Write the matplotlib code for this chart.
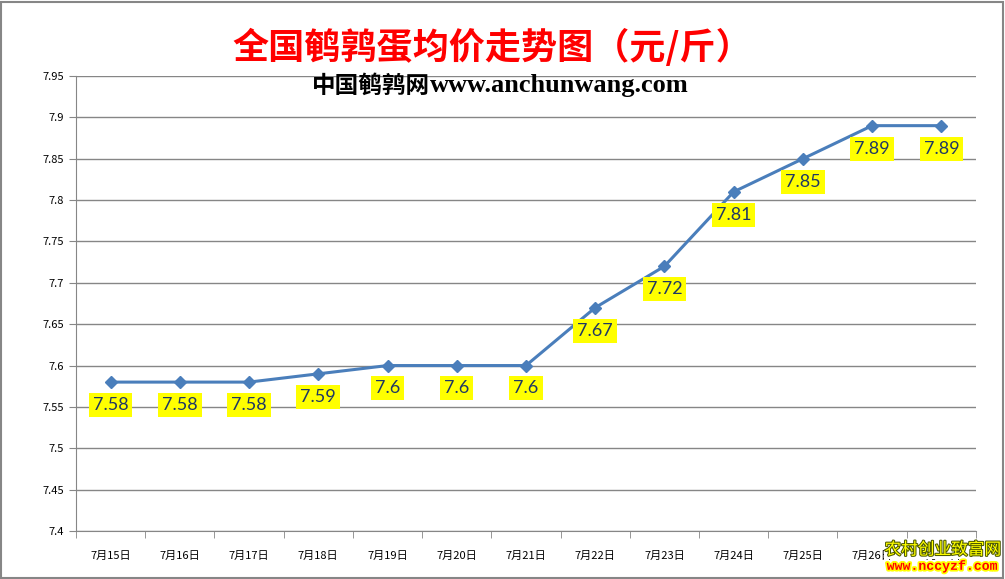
import matplotlib.pyplot as plt
import matplotlib.patheffects as pe
import numpy as np

plt.rcParams['font.family'] = ['Noto Sans CJK SC', 'DejaVu Sans']

dates = ['7月15日', '7月16日', '7月17日', '7月18日', '7月19日', '7月20日', '7月21日',
         '7月22日', '7月23日', '7月24日', '7月25日', '7月26日', '7月27日']
prices = [7.58, 7.58, 7.58, 7.59, 7.6, 7.6, 7.6, 7.67, 7.72, 7.81, 7.85, 7.89, 7.89]
yticks = [7.4, 7.45, 7.5, 7.55, 7.6, 7.65, 7.7, 7.75, 7.8, 7.85, 7.9, 7.95]

fig = plt.figure(figsize=(10.05, 5.79), dpi=100)
ax = fig.add_axes([0.0756, 0.0829, 0.8955, 0.7858])

x = np.arange(len(dates))
ax.plot(x, prices, color='#4A7EBB', lw=2.2, marker='D', ms=6, zorder=3)

for xi, v in zip(x, prices):
    ax.annotate('%g' % v, (xi, v), xytext=(0, -16.5), textcoords='offset points',
                ha='center', va='center', fontsize=13, color='#1F3864',
                family=['Lato', 'DejaVu Sans'],
                bbox=dict(boxstyle='square,pad=0.22', fc='#FFFF00', ec='none'), zorder=4)

ax.set_xlim(-0.5, len(dates) - 0.5)
ax.set_ylim(7.4, 7.95)
ax.set_yticks(yticks)
ax.set_yticklabels(['%g' % t for t in yticks])
ax.set_xticks(x)
ax.set_xticklabels(dates)
ax.set_xticks(np.arange(len(dates) + 1) - 0.5, minor=True)
ax.tick_params(axis='x', which='major', length=0, pad=14, labelsize=8)
ax.tick_params(axis='x', which='minor', length=5, color='#868686')
ax.tick_params(axis='y', length=5, color='#868686', labelsize=8)
ax.grid(axis='y', color='#868686', lw=1)
ax.set_axisbelow(True)
for s in ['top', 'right']:
    ax.spines[s].set_visible(False)
ax.spines['left'].set_color('#868686')
ax.spines['bottom'].set_color('#868686')

fig.text(0.49, 0.918, '全国鹌鹑蛋均价走势图（元/斤）', ha='center', va='center',
         fontsize=26, fontweight='bold', color='#FF0000')
fig.text(0.428, 0.852, '中国鹌鹑网', ha='right', va='center', fontsize=17,
         fontweight='bold', color='black')
fig.text(0.428, 0.852, 'www.anchunwang.com', ha='left', va='center', fontsize=19,
         fontweight='bold', color='black', family=['Liberation Serif'])

fig.text(0.938, 0.05, '农村创业致富网', ha='center', va='center', fontsize=12,
         color='#FFFF00', zorder=5,
         bbox=dict(boxstyle='square,pad=0.05', fc='white', ec='none'),
         path_effects=[pe.withStroke(linewidth=1.5, foreground='#4D5A00')])
fig.text(0.938, 0.021, 'www.nccyzf.com', ha='center', va='center', fontsize=9.5,
         fontweight='bold', color='#FF0000', family=['Liberation Mono'], zorder=5,
         path_effects=[pe.withStroke(linewidth=2.5, foreground='#FFFF00')])

fig.patches.append(plt.Rectangle((0.001, 0.002), 0.997, 0.995, transform=fig.transFigure,
                                 fill=False, ec='#868686', lw=1.5))

plt.savefig('out.png', dpi=100)
